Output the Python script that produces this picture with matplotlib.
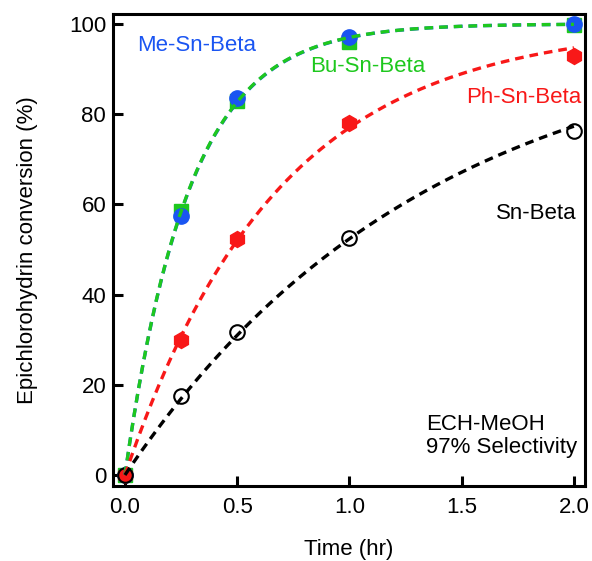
import numpy as np
import matplotlib
matplotlib.use("Agg")
import matplotlib.pyplot as plt

plt.rcParams['font.family'] = ['Liberation Sans', 'DejaVu Sans']

# reaction time (hr)
time = [0.0, 0.25, 0.5, 1.0, 2.0]

# epichlorohydrin conversion (%)
me_sn_beta = [0.0, 57.5, 83.5, 97.2, 100.0]
bu_sn_beta = [0.0, 58.5, 83.0, 96.0, 99.8]
ph_sn_beta = [0.0, 30.0, 52.3, 78.0, 93.0]
sn_beta = [0.0, 17.5, 31.7, 52.6, 76.3]

BLUE = '#1a55f2'
GREEN = '#1ec81e'
RED = '#f81818'
FS = 16


def first_order_fit(t, y):
    """Fit y = 100 (1 - exp(-k t)) by grid search on k."""
    t = np.asarray(t)
    y = np.asarray(y)
    ks = np.linspace(0.05, 8, 4000)
    sse = [np.sum((y - 100 * (1 - np.exp(-k * t))) ** 2) for k in ks]
    k = ks[int(np.argmin(sse))]
    tt = np.linspace(0, 2, 200)
    return tt, 100 * (1 - np.exp(-k * tt))


fig = plt.figure(figsize=(5.92, 5.61), dpi=100)
ax = fig.add_axes([0.191, 0.134, 0.797, 0.841])

# markers
ax.plot(time, bu_sn_beta, 's', color=GREEN, ms=10.5, mec=GREEN, zorder=2)
ax.plot(time, me_sn_beta, 'o', color=BLUE, ms=11, mec=BLUE, zorder=3)
ax.plot(time, ph_sn_beta, 'h', color=RED, ms=11.5, mec=RED, zorder=3)
ax.plot(time, sn_beta, 'o', mfc='none', mec='black', mew=1.5, ms=10.5, zorder=4)

# first-order fits
dash = (2.6, 1.8)
for data, col in [(me_sn_beta, BLUE), (bu_sn_beta, GREEN),
                  (ph_sn_beta, RED), (sn_beta, 'black')]:
    tt, yy = first_order_fit(time, data)
    ax.plot(tt, yy, color=col, lw=2.4, dashes=dash, zorder=5)

# labels
ax.text(0.053, 95.3, 'Me-Sn-Beta', color=BLUE, fontsize=FS, va='center')
ax.text(0.824, 90.5, 'Bu-Sn-Beta', color=GREEN, fontsize=FS, va='center')
ax.text(2.035, 83.8, 'Ph-Sn-Beta', color=RED, fontsize=FS, va='center', ha='right')
ax.text(2.013, 58.0, 'Sn-Beta', color='black', fontsize=FS, va='center', ha='right')
ax.text(1.34, 8.6, 'ECH-MeOH\n97% Selectivity', color='black', fontsize=FS,
        va='center', ha='left', linespacing=1.15)

ax.set_xlim(-0.053, 2.049)
ax.set_ylim(-2.4, 102.2)
ax.set_xticks([0.0, 0.5, 1.0, 1.5, 2.0])
ax.set_xticklabels(['0.0', '0.5', '1.0', '1.5', '2.0'])
ax.set_yticks([0, 20, 40, 60, 80, 100])

ax.tick_params(direction='in', length=7.5, width=2.2, labelsize=FS)
ax.tick_params(axis='x', pad=8)
ax.tick_params(axis='y', pad=5)
for s in ax.spines.values():
    s.set_linewidth(2.2)

ax.set_xlabel('Time (hr)', fontsize=FS, labelpad=15)
ax.set_ylabel('Epichlorohydrin conversion (%)', fontsize=FS, labelpad=22)

fig.savefig('out.png', dpi=100)
